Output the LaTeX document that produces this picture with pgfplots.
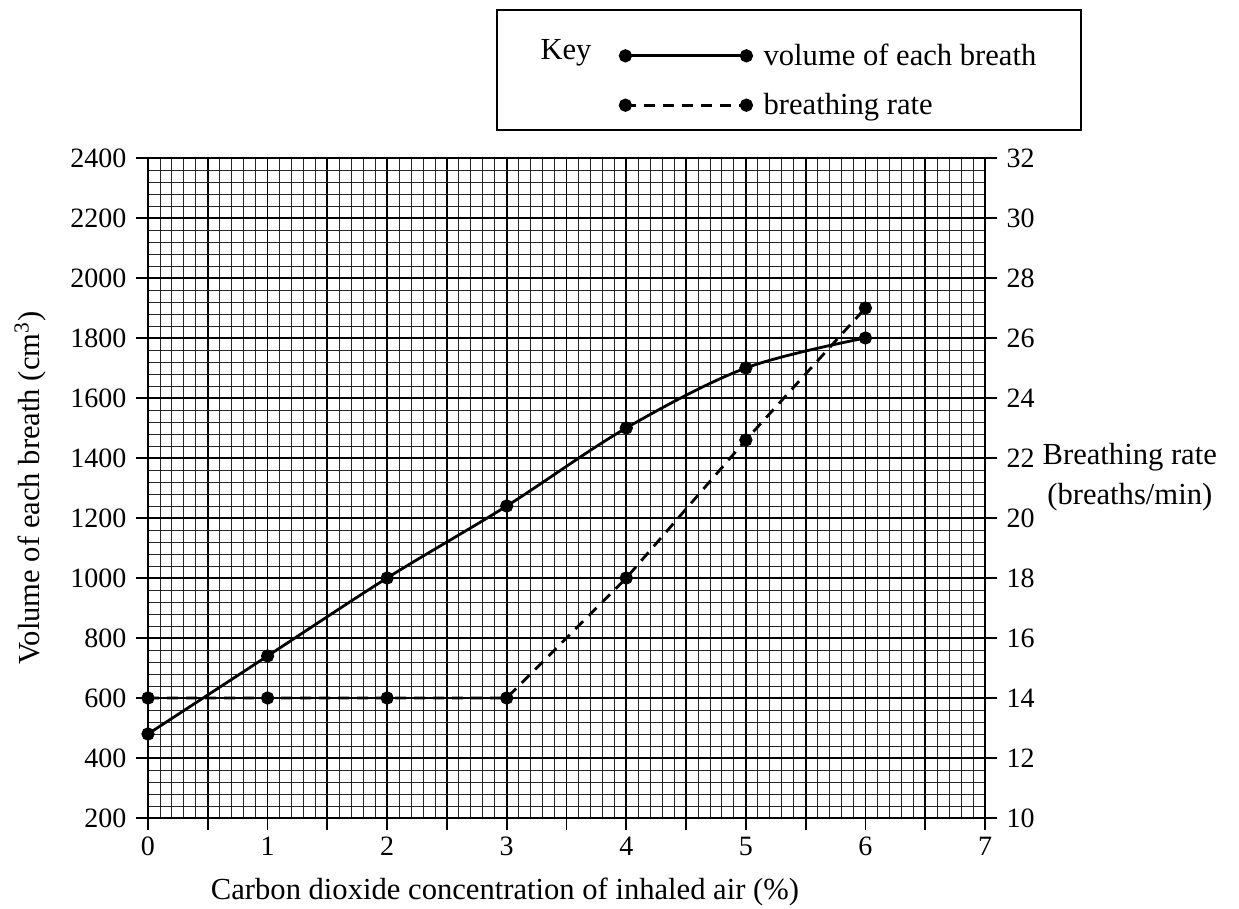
\documentclass[border=0pt]{standalone}
\usepackage{fontspec}
\setmainfont{Liberation Serif}
\usepackage{pgfplots}
\pgfplotsset{compat=1.18}
\begin{document}
\begin{tikzpicture}
\useasboundingbox (0pt,0pt) rectangle (619.5pt,454.5pt);
\pgfplotsset{
  common/.style={
    at={(74pt,45.5pt)}, anchor=south west,
    width=418.5pt, height=330pt, scale only axis,
    xmin=0, xmax=7,
    tick align=outside,
    major tick length=6pt,
    minor tick length=0pt,
    major tick style={black, line width=0.9pt},
    /pgf/number format/assume math mode=true,
    /pgf/number format/1000 sep={},
    ticklabel style={font=\fontsize{14}{17}\selectfont},
    clip=false,
  },
  mystyle/.style={black, line width=1.4pt, mark=*, mark size=2.6pt, mark options={solid}},
}
\begin{axis}[common, ymin=200, ymax=2400,
  xtick={0,0.5,...,7}, xticklabels={0,,1,,2,,3,,4,,5,,6,,7},
  ytick={200,400,...,2400},
  minor x tick num=4, minor y tick num=4,
  grid=both,
  major grid style={black, line width=0.9pt},
  minor grid style={black!85, line width=0.45pt},
  tick pos=left,
  axis line style={black, line width=0.9pt},
  yticklabel style={xshift=-1.3pt},
]
\addplot[mystyle, smooth, tension=0.55] coordinates {(0,480) (1,740) (2,1000) (3,1240) (4,1500) (5,1700) (6,1800)};
\node[rotate=90, font=\fontsize{15.3}{18}\selectfont] at (rel axis cs:-0.141,0.5) {Volume of each breath (cm\textsuperscript{3})};
\node[font=\fontsize{15.3}{18}\selectfont] at (rel axis cs:0.4265,-0.112) {Carbon dioxide concentration of inhaled air (\%)};
\node[align=center, font=\fontsize{15.3}{20}\selectfont] at (rel axis cs:1.173,0.5167) {Breathing rate\\(breaths/min)};
\end{axis}
\begin{axis}[common, ymin=10, ymax=32,
  ytick={10,12,...,32},
  axis x line=none,
  axis y line*=right,
  axis line style={black, line width=0.9pt},
  yticklabel style={xshift=1.3pt},
  legend cell align=left,
  legend style={at={(rel axis cs:0.5637,1.174)}, anchor=north west, draw=none, fill=none,
    font=\fontsize{15.3}{18}\selectfont, row sep=12.5pt, column sep=6pt, inner sep=0pt,
    nodes={inner sep=0pt}},
  legend image code/.code={\draw[#1] plot coordinates {(0pt,0pt) (60.5pt,0pt)};},
]
\addlegendimage{mystyle}
\addlegendentry{volume of each breath}
\addplot[mystyle, dash pattern=on 5.5pt off 4pt] coordinates {(0,14) (1,14) (2,14) (3,14) (4,18) (5,22.6) (6,27)};
\addlegendentry{breathing rate}
\end{axis}
\draw[line width=0.8pt] (248.5pt,389.5pt) rectangle (540.5pt,449.5pt);
\node[font=\fontsize{15.3}{18}\selectfont] at (283pt,428pt) {Key};
\end{tikzpicture}
\end{document}
